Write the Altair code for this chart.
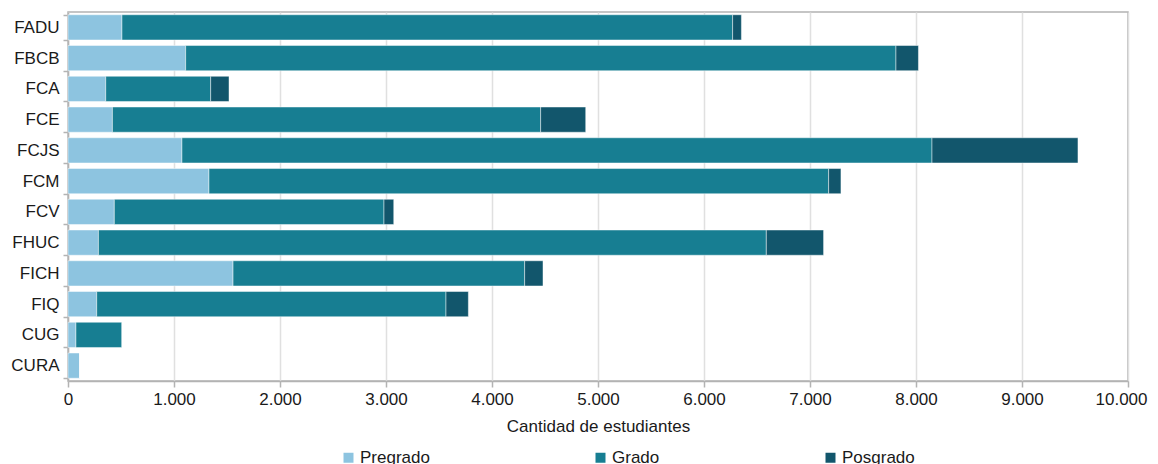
import altair as alt
import pandas as pd

categories = ["FADU", "FBCB", "FCA", "FCE", "FCJS", "FCM", "FCV", "FHUC", "FICH", "FIQ", "CUG", "CURA"]
pregrado = [509, 1110, 356, 419, 1075, 1330, 437, 287, 1557, 271, 75, 110]
grado = [5761, 6701, 990, 4040, 7076, 5846, 2544, 6301, 2751, 3295, 434, 0]
posgrado = [83, 212, 173, 425, 1377, 116, 92, 540, 173, 211, 0, 0]
levels = ["Pregrado", "Grado", "Posgrado"]
colors = ["#8DC4E0", "#177E92", "#12566C"]
x_ticks = [0, 1000, 2000, 3000, 4000, 5000, 6000, 7000, 8000, 9000, 10000]

rows = []
for i, c in enumerate(categories):
    for j, (lvl, vals) in enumerate(zip(levels, [pregrado, grado, posgrado])):
        rows.append({"Facultad": c, "Nivel": lvl, "orden": j, "valor": vals[i]})
df = pd.DataFrame(rows)

font = "Liberation Sans"

chart = alt.Chart(df).mark_bar(
    stroke="#ffffff", strokeWidth=1, strokeOpacity=0.45
).encode(
    y=alt.Y("Facultad:N", sort=categories, title=None,
            scale=alt.Scale(paddingInner=0.18, paddingOuter=0.09),
            axis=alt.Axis(tickBand="extent", tickSize=5, labelPadding=4,
                          labelFontSize=17, labelColor="#1a1a1a", labelFont=font,
                          domainColor="#b3b3b3", domainWidth=1.5, tickColor="#b3b3b3",
                          tickWidth=1.5, grid=False)),
    x=alt.X("valor:Q", stack="zero", title="Cantidad  de estudiantes",
            scale=alt.Scale(domain=[0, 10000], nice=False),
            axis=alt.Axis(values=x_ticks, format=",.0f",
                          labelExpr="replace(datum.label, ',', '.')",
                          labelFlush=False, labelOverlap=False,
                          labelOffset=alt.condition("datum.value == 10000",
                                                    alt.value(-7), alt.value(0)),
                          tickSize=6, labelPadding=4,
                          labelFontSize=17, labelColor="#1a1a1a", labelFont=font,
                          titleFont=font, titleFontSize=17, titleFontWeight="normal",
                          titleColor="#1a1a1a", titlePadding=11,
                          domainColor="#b3b3b3", domainWidth=1.5, tickColor="#b3b3b3",
                          tickWidth=1.5, gridColor="#e0e0e0", gridWidth=1.5)),
    color=alt.Color("Nivel:N", sort=levels,
                    scale=alt.Scale(domain=levels, range=colors),
                    legend=alt.Legend(title=None, orient="none", direction="horizontal",
                                      legendX=272, legendY=437, symbolType="square",
                                      symbolSize=100, symbolStrokeWidth=0,
                                      labelFontSize=17, labelFont=font,
                                      labelColor="#1a1a1a", columnPadding=162,
                                      labelOffset=3)),
    order=alt.Order("orden:Q", sort="ascending"),
).properties(
    width=1060, height=369,
    autosize=alt.AutoSizeParams(type="none"),
    padding={"left": 60, "top": 4, "right": 22, "bottom": 100},
).configure_view(
    stroke="#b3b3b3", strokeWidth=1.5
)

chart.save("out.html", embed_options={"renderer": "svg", "actions": False})
